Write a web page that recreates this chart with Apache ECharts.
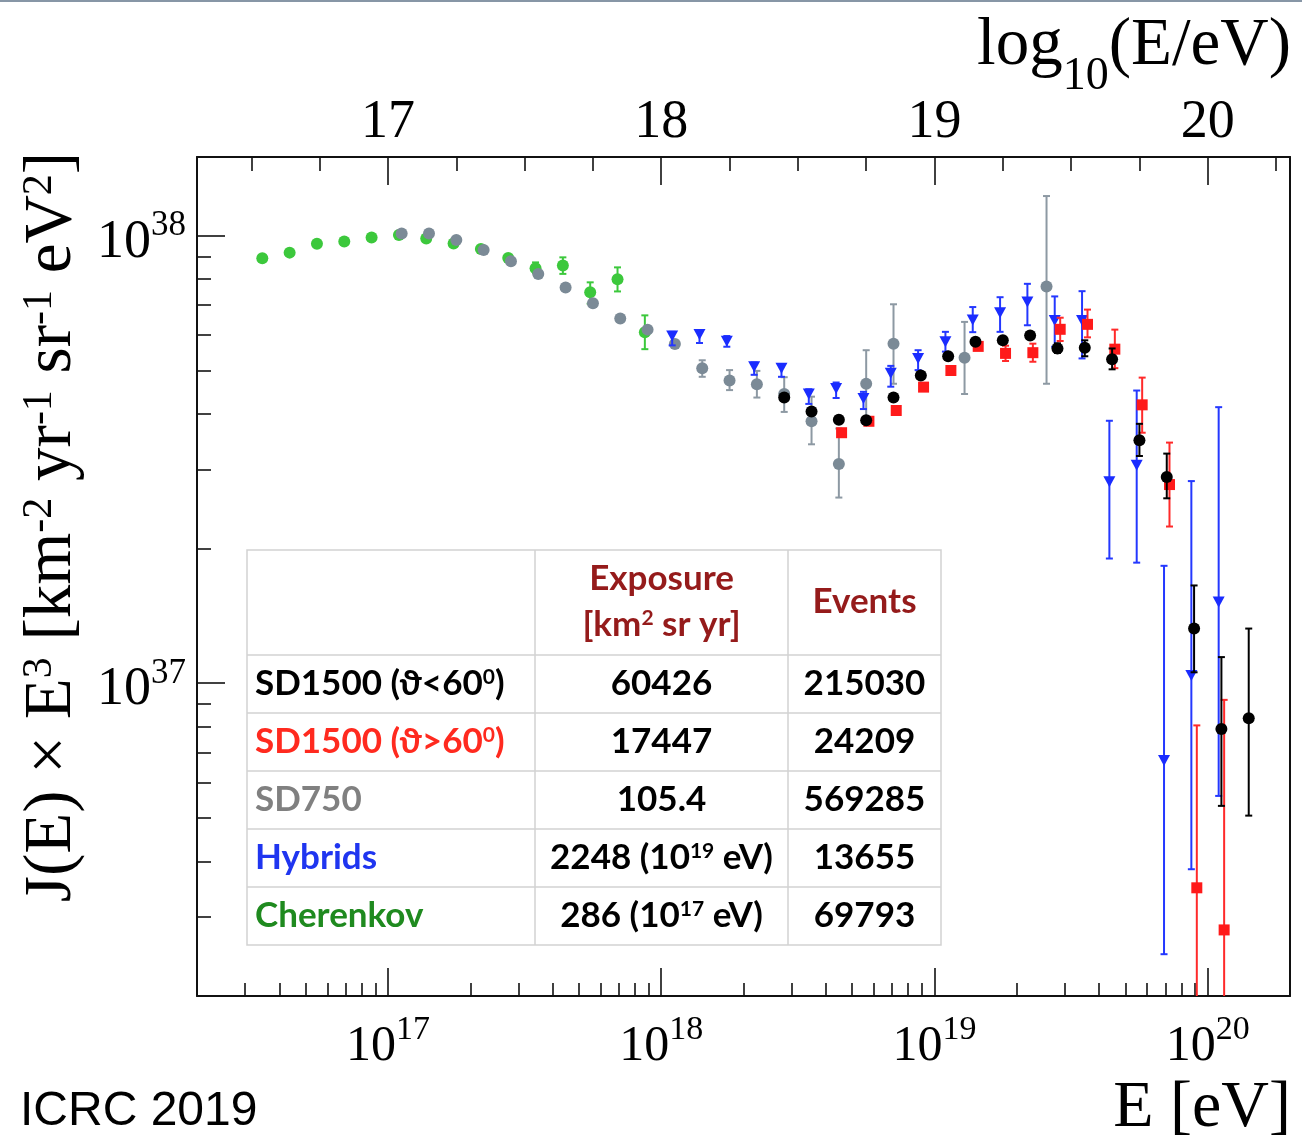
<!DOCTYPE html>
<html>
<head>
<meta charset="utf-8">
<title>Auger energy spectrum</title>
<script src="https://cdn.jsdelivr.net/npm/echarts@6/dist/echarts.min.js"></script>
<style>
  html, body { margin: 0; padding: 0; background: #fff; }
  #chart { width: 1302px; height: 1144px; }
</style>
</head>
<body>
<div id="chart"></div>
<script>
// ---- Data: energy bins in log10(E/eV), flux J(E)·E^3 in km^-2 yr^-1 sr^-1 eV^2 ----
// Errors: lower / upper ends of the bars (null where the bar hides behind the marker)

const cherenkovLgE = [16.54, 16.64, 16.74, 16.84, 16.94, 17.04, 17.14, 17.24, 17.34, 17.44, 17.54, 17.64, 17.74, 17.84, 17.94];
const cherenkovJ   = [8.91e37, 9.17e37, 9.60e37, 9.71e37, 9.91e37, 1.004e38, 9.86e37, 9.61e37, 9.34e37, 8.92e37, 8.46e37, 8.58e37, 7.48e37, 8.00e37, 6.09e37];
const cherenkovLo  = [null, null, null, null, null, null, null, null, null, null, 8.25e37, 8.22e37, 7.05e37, 7.51e37, 5.58e37];
const cherenkovHi  = [null, null, null, null, null, null, null, null, null, null, 8.72e37, 8.95e37, 7.87e37, 8.50e37, 6.64e37];

const sd750LgE = [17.05, 17.15, 17.25, 17.35, 17.45, 17.55, 17.65, 17.75, 17.85, 17.95, 18.05, 18.15, 18.25, 18.35, 18.45, 18.55, 18.65, 18.75, 18.85, 19.11, 19.41];
const sd750J   = [1.012e38, 1.012e38, 9.78e37, 9.29e37, 8.77e37, 8.22e37, 7.66e37, 7.07e37, 6.53e37, 6.17e37, 5.73e37, 5.06e37, 4.75e37, 4.66e37, 4.43e37, 3.85e37, 3.09e37, 4.67e37, 5.74e37, 5.34e37, 7.70e37];
const sd750Lo  = [null, null, null, null, null, null, null, null, null, null, null, 4.84e37, 4.52e37, 4.35e37, 4.04e37, 3.42e37, 2.60e37, 3.85e37, 4.67e37, 4.43e37, 4.67e37];
const sd750Hi  = [null, null, null, null, null, null, null, null, null, null, null, 5.27e37, 5.01e37, 4.99e37, 4.83e37, 4.37e37, 3.71e37, 5.55e37, 7.03e37, 6.42e37, 1.227e38];

const hybridLgE = [18.04, 18.14, 18.24, 18.34, 18.44, 18.54, 18.64, 18.74, 18.84, 18.94, 19.04, 19.14, 19.24, 19.34, 19.44, 19.54, 19.64, 19.74, 19.84, 19.94, 20.04];
const hybridJ   = [5.97e37, 6.02e37, 5.81e37, 5.10e37, 5.06e37, 4.43e37, 4.56e37, 4.33e37, 4.93e37, 5.32e37, 5.80e37, 6.48e37, 6.73e37, 7.11e37, 6.47e37, 6.47e37, 2.82e37, 3.07e37, 6.72e36, 1.04e37, 1.52e37];
const hybridLo  = [5.69e37, 5.76e37, 5.65e37, 4.89e37, 4.84e37, 4.21e37, 4.34e37, 4.10e37, 4.60e37, 5.01e37, 5.51e37, 6.09e37, 6.10e37, 6.31e37, 5.65e37, 5.32e37, 1.90e37, 1.86e37, 2.48e36, 3.84e36, 5.60e36];
const hybridHi  = [6.10e37, 6.15e37, 5.97e37, 5.21e37, 5.16e37, 4.54e37, 4.70e37, 4.48e37, 5.12e37, 5.55e37, 6.10e37, 6.93e37, 7.29e37, 7.81e37, 7.32e37, 7.52e37, 3.86e37, 4.51e37, 1.83e37, 2.83e37, 4.14e37];

const sd1500LgE = [18.45, 18.55, 18.65, 18.75, 18.85, 18.95, 19.05, 19.15, 19.25, 19.35, 19.45, 19.55, 19.65, 19.75, 19.85, 19.95, 20.05, 20.15];
const sd1500J   = [4.35e37, 4.05e37, 3.88e37, 3.87e37, 4.35e37, 4.87e37, 5.38e37, 5.80e37, 5.84e37, 5.99e37, 5.60e37, 5.62e37, 5.30e37, 3.49e37, 2.89e37, 1.325e37, 7.90e36, 8.35e36];
const sd1500Lo  = [null, null, null, null, null, null, null, null, null, null, 5.47e37, 5.38e37, 5.03e37, 3.22e37, 2.59e37, 1.058e37, 5.32e36, 5.06e36];
const sd1500Hi  = [null, null, null, null, null, null, null, null, null, null, 5.75e37, 5.84e37, 5.60e37, 3.80e37, 3.26e37, 1.654e37, 1.144e37, 1.325e37];

const inclinedLgE = [18.66, 18.76, 18.86, 18.96, 19.06, 19.16, 19.26, 19.36, 19.46, 19.56, 19.66, 19.76, 19.86, 19.96, 20.06];
const inclinedJ   = [3.63e37, 3.85e37, 4.07e37, 4.59e37, 5.00e37, 5.66e37, 5.46e37, 5.48e37, 6.18e37, 6.34e37, 5.58e37, 4.19e37, 2.78e37, 3.49e36, 2.81e36];
const inclinedLo  = [null, null, null, null, null, null, 5.25e37, 5.23e37, 5.82e37, 5.93e37, 5.06e37, 3.63e37, 2.24e37, 1.0e36, 1.0e36];
const inclinedHi  = [null, null, null, null, null, null, 5.68e37, 5.74e37, 6.56e37, 6.84e37, 6.17e37, 4.82e37, 3.45e37, 8.05e36, 9.18e36];

// ---- Axis ranges and ticks ----
const energyMin = 2e16, energyMax = 2e20;       // eV
const fluxMin = 2e36, fluxMax = 1.5e38;
const decadesE = [17, 18, 19, 20];
const decadesJ = [37, 38];
const minorMultipliers = [2, 3, 4, 5, 6, 7, 8, 9];
const topMinorLgE = [16.5, 16.75, 17.25, 17.5, 17.75, 18.25, 18.5, 18.75, 19.25, 19.5, 19.75, 20.25];

// ---- Exposure table ----
const tableLabels   = ['SD1500 (ϑ<60{sup|0})', 'SD1500 (ϑ>60{sup|0})', 'SD750', 'Hybrids', 'Cherenkov'];
const tableColors   = ['#000000', '#ff2a1f', '#808080', '#1f35f0', '#1f8a1f'];
const tableExposure = ['60426', '17447', '105.4', '2248 (10{sup|19} eV)', '286 (10{sup|17} eV)'];
const tableEvents   = ['215030', '24209', '569285', '13655', '69793'];

// ---------------------------------------------------------------------------
const lg = Math.log10;
const xMin = lg(energyMin), xMax = lg(energyMax);
const yMin = lg(fluxMin), yMax = lg(fluxMax);

function minorLogs(fromDecade, toDecade, lo, hi) {
  const out = [];
  for (let d = fromDecade; d <= toDecade; d++) {
    minorMultipliers.forEach(m => {
      const v = d + lg(m);
      if (v > lo + 1e-6 && v < hi - 1e-6) out.push(v);
    });
  }
  return out;
}
const bottomMinor = minorLogs(16, 20, xMin, xMax);
const leftMinor = minorLogs(36, 38, yMin, yMax);

const AX = '#111';
const serif = '"Liberation Serif", "DejaVu Serif", serif';

function xAxisDef(position, ticks, tickLen, withLine, labels) {
  return {
    type: 'value', position, min: xMin, max: xMax, gridIndex: 0,
    axisLine: { show: withLine, onZero: false, lineStyle: { color: AX, width: 2 } },
    axisTick: { show: true, inside: true, length: tickLen, customValues: ticks, lineStyle: { color: AX, width: 1.6 } },
    axisLabel: labels || { show: false },
    splitLine: { show: false }
  };
}
function yAxisDef(position, ticks, tickLen, withLine, labels) {
  return {
    type: 'value', position, min: yMin, max: yMax, gridIndex: 0,
    axisLine: { show: withLine, onZero: false, lineStyle: { color: AX, width: 2 } },
    axisTick: { show: ticks.length > 0, inside: true, length: tickLen, customValues: ticks, lineStyle: { color: AX, width: 1.6 } },
    axisLabel: labels || { show: false },
    splitLine: { show: false }
  };
}

// superscript token: sits on the top of the line; bottom padding lowers the base digits
const supRich = (size, drop) => ({
  sup: { fontSize: size, fontFamily: serif, color: '#000', verticalAlign: 'top', padding: [0, 0, drop, 0] }
});

const xAxes = [
  xAxisDef('bottom', decadesE, 28, true, {
    show: true, customValues: decadesE, margin: 17, color: '#000',
    fontFamily: serif, fontSize: 50,
    formatter: v => '10{sup|' + Math.round(v) + '}',
    rich: supRich(34, 33)
  }),
  xAxisDef('bottom', bottomMinor, 13, false),
  xAxisDef('top', decadesE, 28, true, {
    show: true, customValues: decadesE, margin: 7, color: '#000',
    fontFamily: serif, fontSize: 54,
    formatter: v => String(Math.round(v))
  }),
  xAxisDef('top', topMinorLgE, 14, false)
];
const yAxes = [
  yAxisDef('left', decadesJ, 28, true, {
    show: true, customValues: decadesJ, margin: 11, color: '#000',
    fontFamily: serif, fontSize: 54, padding: [14, 0, 0, 0],
    formatter: v => '10{sup|' + Math.round(v) + '}',
    rich: supRich(35, 33)
  }),
  yAxisDef('left', leftMinor, 14, false),
  yAxisDef('right', [], 0, true)
];

function pointSeries(name, lgE, J, symbol, size, color, z, rotate) {
  return {
    type: 'scatter', name, xAxisIndex: 0, yAxisIndex: 0, z, silent: true,
    symbol, symbolSize: size, symbolRotate: rotate || 0,
    itemStyle: { color, opacity: 1 },
    data: lgE.map((x, i) => [x, lg(J[i])])
  };
}

function errorSeries(name, lgE, lo, hi, color, z) {
  const data = [];
  lgE.forEach((x, i) => {
    if (lo[i] != null && hi[i] != null) data.push([x, lg(lo[i]), lg(hi[i])]);
  });
  return {
    type: 'custom', name, xAxisIndex: 0, yAxisIndex: 0, z, silent: true, clip: true,
    renderItem(params, api) {
      const top = api.coord([api.value(0), api.value(2)]);
      const bot = api.coord([api.value(0), api.value(1)]);
      const cs = params.coordSys;
      const yBottom = cs.y + cs.height;
      const y2 = Math.min(bot[1], yBottom);
      const cap = 3.5;
      const st = { stroke: color, lineWidth: 2 };
      const children = [
        { type: 'line', shape: { x1: top[0], y1: top[1], x2: top[0], y2 }, style: st },
        { type: 'line', shape: { x1: top[0] - cap, y1: top[1], x2: top[0] + cap, y2: top[1] }, style: st }
      ];
      if (bot[1] <= yBottom) {
        children.push({ type: 'line', shape: { x1: bot[0] - cap, y1: bot[1], x2: bot[0] + cap, y2: bot[1] }, style: st });
      }
      return { type: 'group', children };
    },
    data
  };
}

const series = [
  errorSeries('Cherenkov err', cherenkovLgE, cherenkovLo, cherenkovHi, '#3cc83c', 10),
  pointSeries('Cherenkov', cherenkovLgE, cherenkovJ, 'circle', 12, '#3cc83c', 11),
  errorSeries('SD750 err', sd750LgE, sd750Lo, sd750Hi, '#8d99a3', 12),
  pointSeries('SD750', sd750LgE, sd750J, 'circle', 12, '#7b8a96', 13),
  errorSeries('Hybrids err', hybridLgE, hybridLo, hybridHi, '#2438ff', 14),
  pointSeries('Hybrids', hybridLgE, hybridJ, 'triangle', [12, 11], '#1a2cff', 15, 180),
  errorSeries('SD1500 inclined err', inclinedLgE, inclinedLo, inclinedHi, '#ff2a2a', 16),
  pointSeries('SD1500 inclined', inclinedLgE, inclinedJ, 'rect', 11, '#ff1a1a', 17),
  errorSeries('SD1500 vertical err', sd1500LgE, sd1500Lo, sd1500Hi, '#000000', 18),
  pointSeries('SD1500 vertical', sd1500LgE, sd1500J, 'circle', 12, '#000000', 19)
];

// ---- Table drawn as graphic elements ----
const tabX = [247, 535, 788, 941];
const tabY = [550, 655, 713, 771, 829, 887, 945];
const tableFont = 'Lato, "Open Sans", "Noto Sans", sans-serif';
const lineColor = '#d2d2d2';
const tableGraphics = [];
tableGraphics.push({
  type: 'rect', z: 100,
  shape: { x: tabX[0], y: tabY[0], width: tabX[3] - tabX[0], height: tabY[tabY.length - 1] - tabY[0] },
  style: { fill: '#fff', stroke: lineColor, lineWidth: 1.5 }
});
tabY.slice(1, -1).forEach(y => tableGraphics.push({
  type: 'line', z: 101, shape: { x1: tabX[0], y1: y, x2: tabX[3], y2: y }, style: { stroke: lineColor, lineWidth: 1.5 }
}));
tabX.slice(1, -1).forEach(x => tableGraphics.push({
  type: 'line', z: 101, shape: { x1: x, y1: tabY[0], x2: x, y2: tabY[tabY.length - 1] }, style: { stroke: lineColor, lineWidth: 1.5 }
}));
function cellText(text, x, y, color, align) {
  return {
    type: 'text', z: 102, x, y,
    style: {
      text, fill: color, align, verticalAlign: 'middle',
      fontFamily: tableFont, fontSize: 35, fontWeight: 'bold',
      rich: { sup: { fontSize: 21, fontFamily: tableFont, fontWeight: 'bold', fill: color, verticalAlign: 'top' } }
    }
  };
}
const headColor = '#951b1b';
const midExp = (tabX[1] + tabX[2]) / 2, midEv = (tabX[2] + tabX[3]) / 2;
tableGraphics.push(cellText('Exposure', midExp, 579, headColor, 'center'));
tableGraphics.push(cellText('[km{sup|2} sr yr]', midExp, 625, headColor, 'center'));
tableGraphics.push(cellText('Events', midEv, 602, headColor, 'center'));
tableLabels.forEach((lab, i) => {
  const yMid = (tabY[i + 1] + tabY[i + 2]) / 2;
  tableGraphics.push(cellText(lab, tabX[0] + 8, yMid, tableColors[i], 'left'));
  tableGraphics.push(cellText(tableExposure[i], midExp, yMid, '#000', 'center'));
  tableGraphics.push(cellText(tableEvents[i], midEv, yMid, '#000', 'center'));
});

const titleGraphics = [
  { type: 'line', shape: { x1: 0, y1: 1, x2: 1302, y2: 1 }, style: { stroke: '#8796a6', lineWidth: 2 } },
  {
    type: 'text', x: 1291, y: -8,
    style: {
      text: 'log{sub|10}(E/eV)', fill: '#000', align: 'right', verticalAlign: 'top',
      fontFamily: serif, fontSize: 67,
      rich: { sub: { fontFamily: serif, fontSize: 46, fill: '#000', verticalAlign: 'top', padding: [62, 0, 0, 0] } }
    }
  },
  {
    type: 'text', x: 52, y: 527, rotation: Math.PI / 2,
    style: {
      text: 'J(E) × E{sup|3} [km{sup|-2} yr{sup|-1} sr{sup|-1} eV{sup|2}]', fill: '#000',
      align: 'center', verticalAlign: 'middle', fontFamily: serif, fontSize: 67,
      rich: { sup: { fontFamily: serif, fontSize: 42, fill: '#000', verticalAlign: 'top' } }
    }
  },
  {
    type: 'text', x: 1291, y: 1109,
    style: { text: 'E [eV]', fill: '#000', align: 'right', verticalAlign: 'middle', fontFamily: serif, fontSize: 66 }
  },
  {
    type: 'text', x: 20, y: 1112,
    style: { text: 'ICRC 2019', fill: '#000', align: 'left', verticalAlign: 'middle', fontFamily: '"Liberation Sans", Arial, sans-serif', fontSize: 48 }
  }
];

const chart = echarts.init(document.getElementById('chart'), null, { renderer: 'canvas', width: 1302, height: 1144 });
chart.setOption({
  animation: false,
  backgroundColor: '#fff',
  grid: { left: 197, right: 12, top: 157, bottom: 148, containLabel: false, outerBoundsMode: 'none' },
  xAxis: xAxes,
  yAxis: yAxes,
  series,
  graphic: titleGraphics.concat(tableGraphics)
});
</script>
</body>
</html>
